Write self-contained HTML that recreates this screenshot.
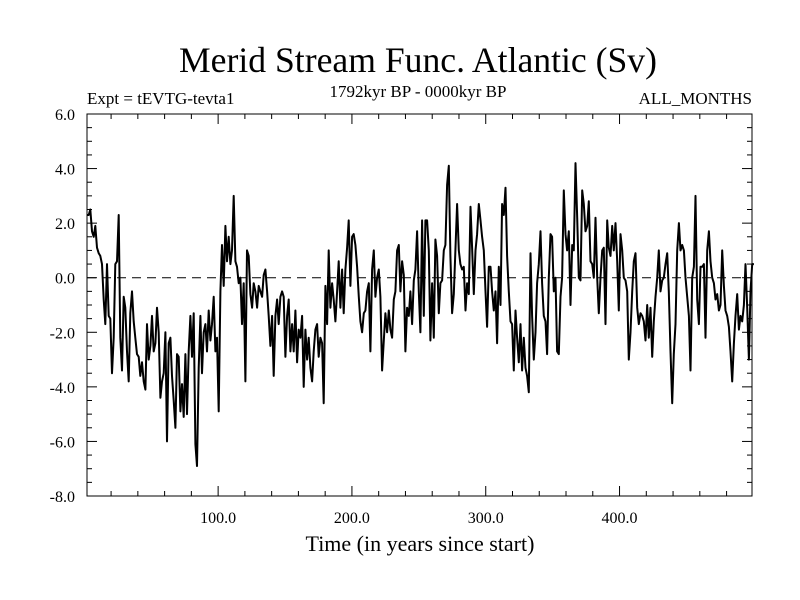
<!DOCTYPE html>
<html><head><meta charset="utf-8"><style>
html,body{margin:0;padding:0;background:#fff}
svg{display:block}
text{font-family:"Liberation Serif",serif;fill:#000}
</style></head><body>
<svg id="chart" width="800" height="600" viewBox="0 0 800 600" xmlns="http://www.w3.org/2000/svg">
<text x="418" y="72" font-size="36" text-anchor="middle" textLength="478" lengthAdjust="spacingAndGlyphs">Merid Stream Func. Atlantic (Sv)</text>
<text x="87" y="104" font-size="17">Expt = tEVTG-tevta1</text>
<text x="418" y="97" font-size="17" text-anchor="middle">1792kyr BP - 0000kyr BP</text>
<text x="752" y="104" font-size="17" text-anchor="end">ALL_MONTHS</text>
<text x="420" y="551" font-size="22" text-anchor="middle">Time (in years since start)</text>
<g id="plot"></g>
</svg>
<script>
const yearStep = 1.246;
const seriesA = [2.3,2.3,2.5,1.7,1.5,1.9,1.1,0.9,0.8,0.5,-0.8,-1.7,0.5,-1.4,-1.5,-3.5,-2.2,0.5,0.6,2.3,-2.2,-3.4,-0.7,-1.1,-2.7,-3.8,-1.3,-0.5,-1.6,-2.2,-2.8,-2.9,-3.6,-3.1,-3.8,-4.1,-1.7,-3.0,-2.5,-1.4,-2.7,-2.4,-1.1,-2.0,-4.4,-3.8,-3.5,-2.0,-6.0,-2.4,-2.2,-3.6,-4.5,-5.5,-2.8,-2.9,-4.9,-3.9,-5.1,-2.8,-5.0,-2.7,-1.4,-2.9,-1.3,-6.1,-6.9,-3.3,-1.4,-3.5,-2.0,-1.7,-2.7,-1.2,-2.3,-1.7,-0.7,-2.7,-2.2,-4.9,-0.5,1.2,-0.3,1.9,0.6,1.5,0.5,1.0,3.0,0.6,0.4,-0.2,0.0,-1.7,-0.2,-3.8,1.0,0.8,-0.6,-1.1,-0.2,-0.5,-1.1,-0.3,-0.5];
const seriesB = [-0.7,0.1,0.3,-0.5,-1.4,-2.5,-1.4,-3.6,-1.4,-0.8,-1.7,-0.7,-0.5,-0.7,-2.9,-1.4,-0.8,-2.7,-1.7,-2.7,-1.2,-3.1,-1.9,-2.2,-1.4,-4.0,-1.9,-3.0,-2.2,-3.3,-3.8,-2.7,-1.9,-1.7,-2.9,-2.2,-2.4,-4.6,-0.3,-1.7,1.0,-1.1,-0.2,-0.8,-1.6,-0.5,0.6,-1.1,0.3,-1.3,0.3,1.1,2.1,-0.3,1.5,1.6,1.2,0.4,-0.7,-1.6,-2.0,-1.3,-1.2,-0.5,-0.2,-2.7,0.3,1.0,-0.7,0.0,0.3,-0.7,-3.4,-2.3,-1.3,-2.0,-1.2,-1.9,-2.2,-0.8,-0.5,1.0,1.2,-0.5,0.6,0.1,-2.7,-1.1,-1.4,-0.5,-1.7,-0.1,0.3,1.7,-0.5,-2.0,2.1,-1.4,2.1];
const seriesC = [2.1,1.0,-2.3,-0.2,-2.2,1.4,0.8,-1.3,-0.2,-0.1,1.0,1.2,3.4,4.1,0.8,-1.3,-0.6,1.0,2.7,1.0,0.5,0.3,0.4,-1.2,-0.2,-0.6,2.6,1.1,-0.6,1.0,1.6,2.7,2.1,1.5,1.0,-0.5,-1.8,0.4,0.4,-0.5,-1.2,-0.5,-2.4,0.4,-1.0,2.7,2.3,3.3,0.8,-0.5,-1.6,-1.7,-3.4,-1.2,-2.2,-3.1,-1.7,-3.4,-2.2,-3.3,-3.6,-4.2,0.9,-1.4,-3.0,-2.0,-0.2,0.5,1.7,-0.2,-1.4,-1.6,-2.8,0.0,1.6,1.5,-0.5,0.0,-2.7,-2.8,-0.7,0.0,3.2,1.6,1.0,1.7,-1.0,1.2,1.0,4.2,2.2,0.0,-0.1,3.2,2.7,1.7,1.9,2.8,0.6];
const seriesD = [0.5,0.0,2.2,0.0,-1.3,0.0,1.0,1.1,-1.7,2.1,1.1,0.8,1.9,1.0,2.0,0.6,-1.2,1.6,1.0,0.0,-0.1,-0.5,-3.0,-2.0,-0.5,0.6,0.9,-1.1,-1.7,-1.3,-1.4,-1.6,-2.3,-1.0,-2.2,-1.1,-2.9,-1.6,-0.7,0.0,1.0,-0.5,-0.1,0.0,0.5,0.9,-0.5,-2.7,-4.6,-2.8,-1.7,1.0,2.0,1.0,1.2,1.0,0.0,-0.7,-1.4,-3.4,0.0,0.4,3.0,-0.8,-1.7,0.4,0.4,0.5,-2.2,1.0,1.7,0.6,0.0,-0.2,-0.8,-0.6,-1.2,-1.0,1.0,-0.3,-1.2,-1.4,-1.8,-2.7,-3.8,-2.4,-1.4,-0.6,-1.9,-1.4,-1.6,-1.0,0.5,-1.1,-3.0,-0.5,0.5,0.5];
const xTicks = [100,200,300,400];
const xTickLabels = ["100.0","200.0","300.0","400.0"];
const yTicks = [6,4,2,0,-2,-4,-6,-8];
const yTickLabels = ["6.0","4.0","2.0","0.0","-2.0","-4.0","-6.0","-8.0"];
const xMin = 2, xMax = 499, yMin = -8, yMax = 6;

const L=87,R=752,T=114,B=496;
const NS='http://www.w3.org/2000/svg';
const g=document.getElementById('plot');
const sx=v=>L+(v-xMin)/(xMax-xMin)*(R-L);
const sy=v=>B-(v-yMin)/(yMax-yMin)*(B-T);
function mk(tag,attrs){const e=document.createElementNS(NS,tag);for(const k in attrs)e.setAttribute(k,attrs[k]);g.appendChild(e);return e;}

const values=seriesA.concat(seriesB,seriesC,seriesD);
const zl=mk('line',{x1:L,x2:R,y1:sy(0),y2:sy(0),stroke:'#000','stroke-width':1,'stroke-dasharray':'9,6'});



let d='';
values.forEach((v,i)=>{d+=(i?'L':'M')+sx(xMin+i*yearStep).toFixed(1)+','+sy(v).toFixed(1);});
const p=mk('path',{d:d,fill:'none',stroke:'#000','stroke-width':2,'stroke-linejoin':'round'});



const fr=mk('rect',{x:L,y:T,width:R-L,height:B-T,fill:'none',stroke:'#000','stroke-width':1});



for(let v=20;v<xMax;v+=20){const maj=v%100===0;const len=maj?10:5;
 const t1=mk('line',{x1:sx(v),x2:sx(v),y1:B,y2:B-len,stroke:'#000'});
 
 
 const t2=mk('line',{x1:sx(v),x2:sx(v),y1:T,y2:T+len,stroke:'#000'});
 
 }
for(let v=yMin+0.5;v<yMax;v+=0.5){const maj=Math.abs(v%2)<1e-6;const len=maj?10:5;
 const t1=mk('line',{x1:L,x2:L+len,y1:sy(v),y2:sy(v),stroke:'#000'});
 
 
 const t2=mk('line',{x1:R,x2:R-len,y1:sy(v),y2:sy(v),stroke:'#000'});
 
 }
xTicks.forEach((v,i)=>{const t=mk('text',{x:sx(v),y:B+27,'font-size':16,'text-anchor':'middle'});t.textContent=xTickLabels[i];
 
 });
yTicks.forEach((v,i)=>{const t=mk('text',{x:L-12,y:sy(v)+6,'font-size':16,'text-anchor':'end'});t.textContent=yTickLabels[i];
 
 });
</script>
</body></html>
